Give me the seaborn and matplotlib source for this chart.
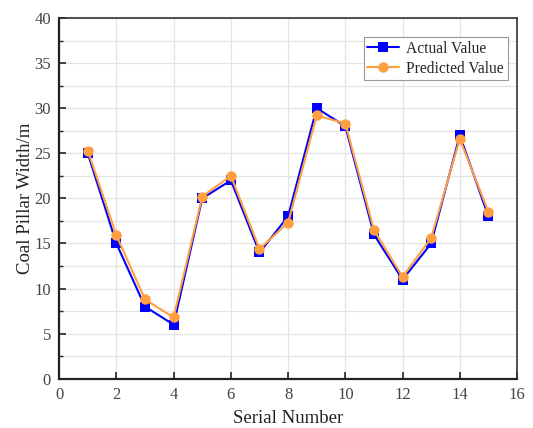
import matplotlib
matplotlib.use("Agg")
import matplotlib.pyplot as plt
import seaborn as sns
import pandas as pd
from matplotlib.ticker import MultipleLocator

serial = list(range(1, 16))
actual = [25, 15, 8, 6, 20, 22, 14, 18, 30, 28, 16, 11, 15, 27, 18]
predicted = [25.3, 15.9, 8.8, 6.8, 20.2, 22.5, 14.4, 17.3, 29.2, 28.3, 16.5, 11.3, 15.6, 26.6, 18.5]

sns.set_theme(style="white")
plt.rcParams['font.family'] = ['Liberation Serif', 'DejaVu Serif']

fig = plt.figure(figsize=(5.33, 4.28), dpi=100)
ax = fig.add_axes([0.111, 0.115, 0.859, 0.843])

df = pd.DataFrame({"Serial": serial, "Actual Value": actual, "Predicted Value": predicted})
sns.lineplot(data=df, x="Serial", y="Actual Value", ax=ax, color="#0000ff", marker="s",
             markersize=7, markeredgewidth=0, linewidth=1.5, label="Actual Value")
sns.lineplot(data=df, x="Serial", y="Predicted Value", ax=ax, color="#ff9f40", marker="o",
             markersize=7.5, markeredgewidth=0, linewidth=1.5, label="Predicted Value")

ax.set_xlim(0, 16)
ax.set_ylim(0, 40)
ax.xaxis.set_major_locator(MultipleLocator(2))
ax.yaxis.set_major_locator(MultipleLocator(5))
ax.yaxis.set_minor_locator(MultipleLocator(2.5))
ax.grid(True, which="major", color="#e4e4e4", linewidth=0.9)
ax.grid(True, which="minor", axis="y", color="#e4e4e4", linewidth=0.9)
ax.set_axisbelow(True)
ax.tick_params(axis="both", which="major", direction="in", length=5, width=1.2,
               labelsize=12, labelcolor="#444444", colors="#222222", pad=6,
               bottom=True, left=True)
ax.tick_params(axis="y", which="minor", direction="in", length=3, width=1, left=True, colors="#222222")
for s in ["left", "bottom"]:
    ax.spines[s].set_linewidth(1.6)
    ax.spines[s].set_color("#222222")
for s in ["top", "right"]:
    ax.spines[s].set_linewidth(1.2)
    ax.spines[s].set_color("#333333")

ax.set_xlabel("Serial Number", fontsize=13.5, color="#222222", labelpad=5)
ax.set_ylabel("Coal Pillar Width/m", fontsize=13.5, color="#222222", labelpad=0)

leg = ax.legend(loc="upper right", bbox_to_anchor=(0.980, 0.948), borderaxespad=0,
                fontsize=11.2, frameon=True, fancybox=False, edgecolor="#999999", framealpha=1,
                handlelength=2.0, borderpad=0.25, labelspacing=0.25, handletextpad=0.5)
leg.get_frame().set_linewidth(0.8)

fig.savefig("out.png", dpi=100)
